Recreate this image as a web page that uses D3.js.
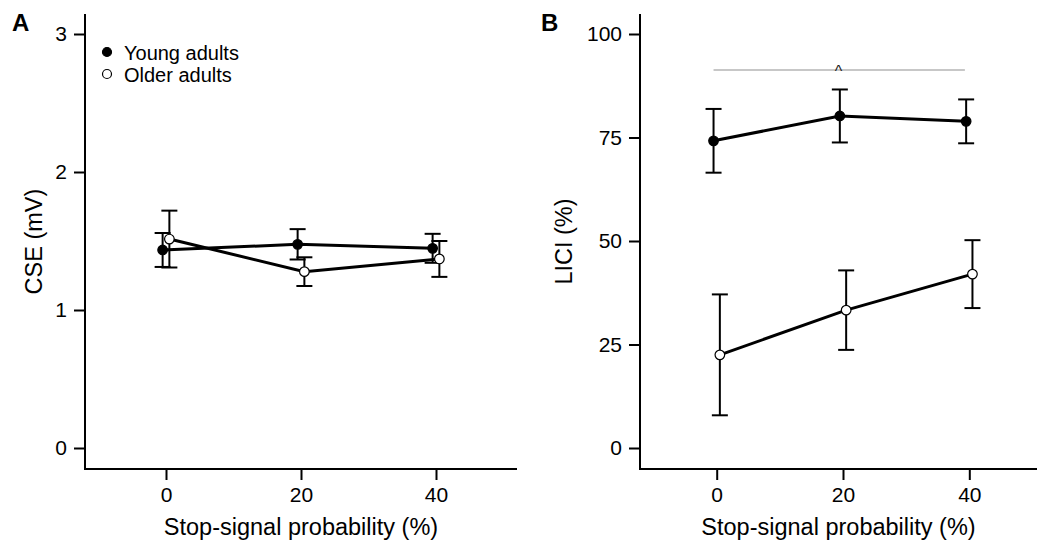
<!DOCTYPE html>
<html>
<head>
<meta charset="utf-8">
<script src="https://cdn.jsdelivr.net/npm/d3@7"></script>
<style>
  body { margin: 0; background: #fff; }
  svg text { font-family: Arial, 'Liberation Sans', sans-serif; fill: #000; }
</style>
</head>
<body>
<div id="chart"></div>
<script>
// data (mean, error)
const probabilities = [0, 20, 40];
const xTicks = [0, 20, 40];

const cseYoung = [1.435, 1.476, 1.447];
const cseYoungErr = [0.123, 0.11, 0.105];
const cseOlder = [1.514, 1.278, 1.37];
const cseOlderErr = [0.206, 0.104, 0.13];
const cseTicks = [0, 1, 2, 3];

const liciYoung = [74.2, 80.2, 78.9];
const liciYoungErr = [7.7, 6.4, 5.3];
const liciOlder = [22.5, 33.3, 42.0];
const liciOlderErr = [14.6, 9.6, 8.2];
const liciTicks = [0, 25, 50, 75, 100];

const seriesNames = ['Young adults', 'Older adults'];

const svg = d3
  .select('#chart')
  .append('svg')
  .attr('width', 1037)
  .attr('height', 541);

function drawPanel(opts) {
  const g = svg.append('g');

  const xScale = d3.scaleLinear().domain([0, 40]).range(opts.xRange);
  const yScale = d3.scaleLinear().domain(opts.yDomain).range([448, 34]);

  // axis lines (L shaped, wider than the tick range)
  g.append('path')
    .attr('d', `M${opts.left},14V469H${opts.right}`)
    .attr('fill', 'none')
    .attr('stroke', '#000')
    .attr('stroke-width', 2);

  const yAxis = g
    .append('g')
    .attr('transform', `translate(${opts.left},0)`)
    .call(
      d3.axisLeft(yScale)
        .tickValues(opts.yTicks)
        .tickFormat(d3.format('d'))
        .tickSize(11)
        .tickPadding(7)
    );
  yAxis.select('.domain').remove();
  yAxis.selectAll('line').attr('stroke-width', 2);
  yAxis.selectAll('text').style('font-size', '21px');

  const xAxis = g
    .append('g')
    .attr('transform', 'translate(0,469)')
    .call(
      d3.axisBottom(xScale)
        .tickValues(xTicks)
        .tickFormat(d3.format('d'))
        .tickSize(11)
        .tickPadding(7)
    );
  xAxis.select('.domain').remove();
  xAxis.selectAll('line').attr('stroke-width', 2);
  xAxis.selectAll('text').style('font-size', '21px');

  g.append('text')
    .attr('x', (opts.left + opts.right) / 2)
    .attr('y', 535)
    .attr('text-anchor', 'middle')
    .style('font-size', '23.5px')
    .text('Stop-signal probability (%)');

  g.append('text')
    .attr('transform', `translate(${opts.titleX},241.5) rotate(-90)`)
    .attr('text-anchor', 'middle')
    .style('font-size', '23.5px')
    .text(opts.yTitle);

  g.append('text')
    .attr('x', opts.letterX)
    .attr('y', 31)
    .style('font-size', '24px')
    .style('font-weight', 'bold')
    .text(opts.letter);

  const line = d3
    .line()
    .x((d) => xScale(d.x))
    .y((d) => yScale(d.y));

  opts.series.forEach((s) => {
    const pts = probabilities.map((p, j) => ({
      x: p + s.offset,
      y: s.values[j],
      e: s.errors[j],
    }));

    const bars = g.append('g').attr('stroke', '#000').attr('stroke-width', 2);
    pts.forEach((d) => {
      const cx = xScale(d.x);
      bars.append('line')
        .attr('x1', cx).attr('x2', cx)
        .attr('y1', yScale(d.y - d.e)).attr('y2', yScale(d.y + d.e));
      [d.y - d.e, d.y + d.e].forEach((v) => {
        bars.append('line')
          .attr('x1', cx - 8).attr('x2', cx + 8)
          .attr('y1', yScale(v)).attr('y2', yScale(v));
      });
    });

    g.append('path')
      .datum(pts)
      .attr('d', line)
      .attr('fill', 'none')
      .attr('stroke', '#000')
      .attr('stroke-width', 3);

    g.selectAll(null)
      .data(pts)
      .enter()
      .append('circle')
      .attr('cx', (d) => xScale(d.x))
      .attr('cy', (d) => yScale(d.y))
      .attr('r', 4.8)
      .attr('fill', s.fill)
      .attr('stroke', '#000')
      .attr('stroke-width', 1.2);
  });

  return { g, xScale, yScale };
}

// Panel A
const panelA = drawPanel({
  letter: 'A',
  letterX: 12,
  left: 85,
  right: 517,
  xRange: [166, 436],
  yDomain: [0, 3],
  yTicks: cseTicks,
  yTitle: 'CSE (mV)',
  titleX: 42,
  series: [
    { values: cseYoung, errors: cseYoungErr, fill: '#000', offset: -0.5 },
    { values: cseOlder, errors: cseOlderErr, fill: '#fff', offset: 0.5 },
  ],
});

// legend
const legend = panelA.g.append('g');
seriesNames.forEach((name, i) => {
  const y = 52 + i * 22;
  legend.append('circle')
    .attr('cx', 107)
    .attr('cy', y)
    .attr('r', 4.5)
    .attr('fill', i === 0 ? '#000' : '#fff')
    .attr('stroke', '#000')
    .attr('stroke-width', 1.2);
  legend.append('text')
    .attr('x', 124)
    .attr('y', y + 8)
    .style('font-size', '20px')
    .text(name);
});

// Panel B
const panelB = drawPanel({
  letter: 'B',
  letterX: 541,
  left: 640,
  right: 1037,
  xRange: [716.7, 969.3],
  yDomain: [0, 100],
  yTicks: liciTicks,
  yTitle: 'LICI (%)',
  titleX: 572,
  series: [
    { values: liciYoung, errors: liciYoungErr, fill: '#000', offset: -0.5 },
    { values: liciOlder, errors: liciOlderErr, fill: '#fff', offset: 0.5 },
  ],
});

// group difference marker
const sigY = panelB.yScale(91.3);
panelB.g.append('line')
  .attr('x1', panelB.xScale(-0.5))
  .attr('x2', panelB.xScale(39.3))
  .attr('y1', sigY)
  .attr('y2', sigY)
  .attr('stroke', '#b4b4b4')
  .attr('stroke-width', 1.5);
panelB.g.append('text')
  .attr('x', panelB.xScale(19.3))
  .attr('y', sigY + 7)
  .attr('text-anchor', 'middle')
  .style('font-size', '16px')
  .style('fill', '#222')
  .text('^');
</script>
</body>
</html>
